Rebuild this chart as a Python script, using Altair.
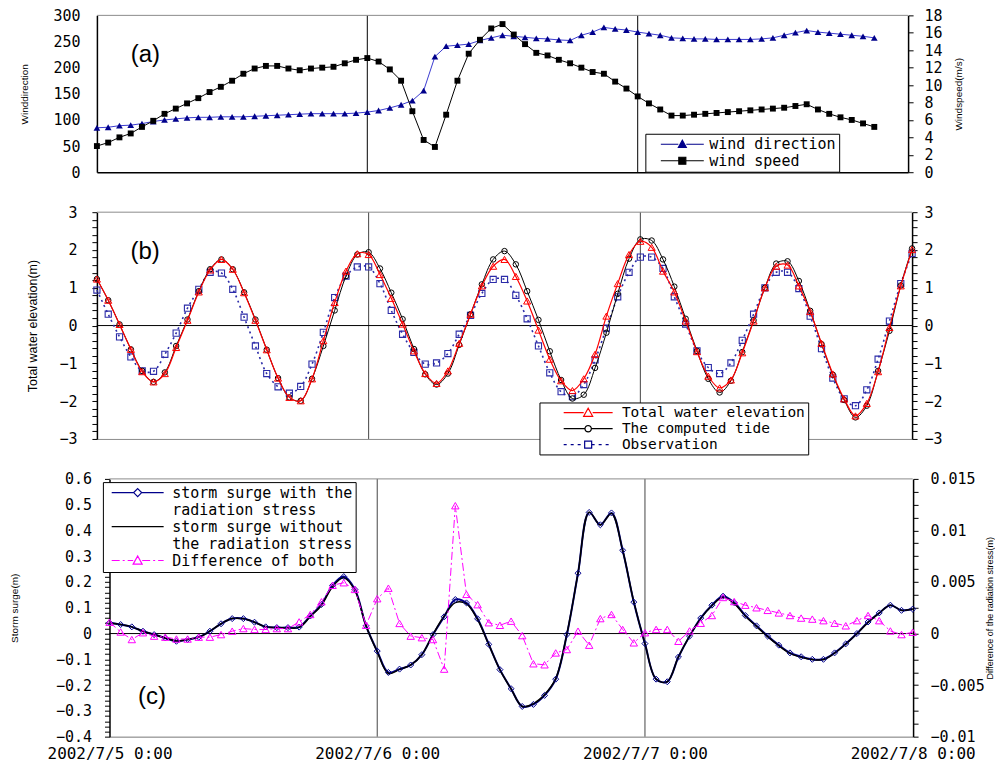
import math
import altair as alt
import pandas as pd

# ---------------- data ----------------
hours_a = list(range(70))
wind_direction = [85, 86, 89, 90, 93, 97, 100, 102, 104, 105,
                  105, 106, 106, 106, 107, 108, 109, 110, 111, 112,
                  112, 112, 112, 113, 115, 118, 123, 129, 137, 156,
                  221, 241, 243, 245, 252, 257, 262, 260, 258, 256,
                  255, 253, 252, 262, 268, 277, 274, 272, 268, 265,
                  262, 257, 256, 255, 255, 254, 254, 254, 254, 255,
                  257, 262, 267, 271, 268, 266, 264, 262, 260, 257]
wind_speed = [3.0, 3.4, 4.0, 4.45, 5.2, 5.9, 6.7, 7.3, 7.9, 8.5,
              9.2, 9.8, 10.5, 11.3, 11.9, 12.2, 12.2, 11.9, 11.7, 11.9,
              12.0, 12.1, 12.5, 12.9, 13.1, 12.7, 11.8, 10.5, 7.0, 3.7,
              2.9, 6.6, 10.5, 13.6, 15.2, 16.5, 17.0, 15.8, 14.7, 13.7,
              13.4, 12.9, 12.5, 12.0, 11.5, 11.3, 10.4, 9.6, 8.7, 7.9,
              7.2, 6.5, 6.5, 6.6, 6.7, 6.8, 6.9, 7.0, 7.1, 7.2,
              7.3, 7.4, 7.6, 7.8, 7.2, 6.7, 6.3, 6.0, 5.6, 5.2]

hours = list(range(73))
total_elev = [1.23, 0.67, 0.03, -0.63, -1.22, -1.49, -1.27, -0.58, 0.14, 0.89,
              1.47, 1.75, 1.49, 0.87, 0.14, -0.64, -1.39, -1.90, -1.99, -1.41,
              -0.40, 0.61, 1.44, 1.90, 1.88, 1.35, 0.72, 0.04, -0.67, -1.27,
              -1.53, -1.20, -0.47, 0.30, 1.05, 1.57, 1.75, 1.30, 0.65, -0.12,
              -0.89, -1.46, -1.72, -1.41, -0.76, 0.25, 1.11, 1.88, 2.23, 2.07,
              1.44, 0.89, 0.12, -0.69, -1.34, -1.65, -1.44, -0.72, 0.12, 1.00,
              1.57, 1.60, 1.05, 0.37, -0.47, -1.28, -1.94, -2.39, -2.06, -1.22,
              -0.05, 1.05, 2.01]
computed_tide = [1.23, 0.67, 0.03, -0.63, -1.20, -1.49, -1.24, -0.54, 0.16, 0.91,
                 1.49, 1.75, 1.49, 0.88, 0.16, -0.64, -1.39, -1.90, -1.99, -1.41,
                 -0.54, 0.40, 1.31, 1.88, 1.94, 1.51, 0.87, 0.17, -0.62, -1.29,
                 -1.56, -1.27, -0.51, 0.30, 1.09, 1.75, 1.97, 1.62, 0.91, 0.15,
                 -0.68, -1.44, -1.93, -1.83, -1.12, -0.19, 0.84, 1.77, 2.28, 2.25,
                 1.75, 1.03, 0.18, -0.67, -1.41, -1.77, -1.46, -0.70, 0.14, 1.00,
                 1.64, 1.70, 1.18, 0.39, -0.49, -1.30, -1.97, -2.43, -2.12, -1.20,
                 -0.14, 1.06, 2.04]
observation = [0.94, 0.30, -0.30, -0.83, -1.20, -1.21, -0.76, -0.20, 0.46, 0.96,
               1.41, 1.39, 0.96, 0.22, -0.54, -1.27, -1.62, -1.79, -1.61, -1.02,
               -0.18, 0.74, 1.31, 1.55, 1.55, 1.11, 0.40, -0.23, -0.71, -1.02,
               -0.99, -0.74, -0.23, 0.27, 0.85, 1.22, 1.22, 0.80, 0.18, -0.54,
               -1.25, -1.75, -1.88, -1.56, -0.91, -0.07, 0.76, 1.41, 1.81, 1.81,
               1.51, 0.76, 0.04, -0.67, -1.11, -1.27, -0.99, -0.39, 0.30, 1.00,
               1.41, 1.41, 0.98, 0.25, -0.61, -1.39, -1.94, -2.12, -1.70, -0.89,
               0.12, 1.11, 1.91]

surge_with = [0.042, 0.035, 0.026, 0.009, -0.004, -0.017, -0.030, -0.023, -0.014, 0.009,
              0.038, 0.058, 0.058, 0.044, 0.026, 0.023, 0.023, 0.025, 0.068, 0.113,
              0.187, 0.221, 0.171, 0.030, -0.068, -0.151, -0.138, -0.122, -0.082, -0.004,
              0.065, 0.132, 0.119, 0.057, -0.042, -0.140, -0.214, -0.283, -0.275, -0.240,
              -0.177, -0.004, 0.234, 0.470, 0.422, 0.468, 0.323, 0.122, -0.039, -0.177,
              -0.187, -0.091, -0.010, 0.060, 0.110, 0.145, 0.120, 0.070, 0.030, -0.010,
              -0.045, -0.075, -0.090, -0.100, -0.100, -0.075, -0.040, 0.000, 0.045, 0.080,
              0.110, 0.090, 0.095]
surge_without = [0.041, 0.035, 0.026, 0.009, -0.004, -0.017, -0.029, -0.023, -0.014, 0.009,
                 0.038, 0.058, 0.057, 0.044, 0.026, 0.023, 0.022, 0.024, 0.066, 0.110,
                 0.182, 0.216, 0.167, 0.029, -0.071, -0.155, -0.139, -0.122, -0.082, -0.003,
                 0.068, 0.120, 0.115, 0.054, -0.043, -0.141, -0.215, -0.283, -0.272, -0.237,
                 -0.175, -0.002, 0.234, 0.471, 0.421, 0.466, 0.323, 0.123, -0.039, -0.177,
                 -0.187, -0.090, -0.010, 0.059, 0.108, 0.141, 0.117, 0.067, 0.028, -0.012,
                 -0.047, -0.077, -0.092, -0.101, -0.101, -0.076, -0.041, -0.001, 0.043, 0.079,
                 0.110, 0.090, 0.095]
difference = [0.0011, 0.00015, -0.00058, 0.00008, -0.00025, -0.00035, -0.00053, -0.00053, -0.00035, -0.00035,
              -0.0001, 0.00023, 0.00048, 0.0004, 0.0004, 0.00048, 0.00048, 0.00113, 0.00185, 0.00308,
              0.00468, 0.00493, 0.00428, 0.0008, 0.00338, 0.0044, 0.00098, -0.00025, -0.0004, -0.00058,
              -0.00345, 0.0124, 0.0038, 0.0028, 0.00105, 0.0008, 0.0012, -0.0002, -0.00293, -0.00303,
              -0.00188, -0.00155, 0.00023, -0.00113, 0.00145, 0.00185, 0.0004, -0.0009, 0.00008, 0.0004,
              0.0004, -0.00075, 0.00025, 0.001, 0.00175, 0.0035, 0.0031, 0.00275, 0.0025, 0.00225,
              0.002, 0.00175, 0.0015, 0.0014, 0.00125, 0.001, 0.00075, 0.00125, 0.00175, 0.00125,
              0.00025, -0.0001, 0.00013]

day_lines = [24, 48]
x_label_hours = [0, 24, 48, 72]
x_labels = ["2002/7/5 0:00", "2002/7/6 0:00", "2002/7/7 0:00", "2002/7/8 0:00"]

legend_a = ["wind direction", "wind speed"]
legend_b = ["Total water elevation", "The computed tide", "Observation"]
legend_c = ["storm surge with the", "radiation stress", "storm surge without",
            "the radiation stress", "Difference of both"]

# ---------------- styling ----------------
FONT = "DejaVu Sans Mono"
TFONT = "Liberation Sans"
NAVY = "#00008b"
BLUE_LINE = "#3b3bd0"
RED = "#ff0000"
MAGENTA = "#ff00ff"
OBS = "#2b2ba8"
GRAY = "#8c8c8c"

W_A, W_B, W_C = 812, 816, 817
H_A, H_B, H_C = 157, 227, 258
C_RANGE = [12.6, 816.6]

df_a = pd.DataFrame({"h": hours_a, "dir": wind_direction, "speed": wind_speed})
df_b = pd.DataFrame({"h": hours, "tot": total_elev, "tide": computed_tide, "obs": observation})
df_c = pd.DataFrame({"h": hours, "sw": surge_with, "swo": surge_without, "diff": difference})
days = pd.DataFrame({"h": day_lines})
one = pd.DataFrame({"k": [0]})


def xscale(rng=None):
    if rng is None:
        return alt.Scale(domain=[0, 72], nice=False, zero=False)
    return alt.Scale(domain=[0, 72], range=rng, nice=False, zero=False)


def yscale(lo, hi):
    return alt.Scale(domain=[lo, hi], nice=False, zero=False)


def yaxis(orient, values, label_padding, tick_size=5, title=None, title_pad=0,
          title_size=10, label_expr=None, offset=None, ticks=True):
    kw = dict(orient=orient, values=values, labelFont=FONT, labelFontSize=15,
              labelColor="black", labelPadding=label_padding, labelOverlap=False,
              domainColor="black", domainWidth=1.5, tickColor="black",
              tickSize=tick_size if ticks else 0, ticks=ticks, grid=False)
    if label_expr:
        kw["labelExpr"] = label_expr
    if offset is not None:
        kw["offset"] = offset
    if title:
        kw.update(title=title, titleFont=TFONT, titleFontSize=title_size,
                  titleFontWeight="normal", titleColor="black", titleAngle=270,
                  titlePadding=title_pad,
                  titleBaseline="bottom" if orient == "left" else "top")
    else:
        kw["title"] = None
    return alt.Axis(**kw)


R = 5.0  # symbol half-size for symbolSize=100


def lpath(length, marker=None, m=4.0, dash=None):
    right = R
    left = right - length
    cx = (left + right) / 2.0
    segs = [(left, cx - m), (cx + m, right)] if marker else [(left, right)]
    parts = []
    for a, b in segs:
        if dash is None:
            parts.append((a, b))
        else:
            x = a
            i = 0
            while x < b - 0.01:
                on = dash[i % len(dash)]
                off = dash[(i + 1) % len(dash)]
                parts.append((x, min(x + on, b)))
                x = x + on + off
                i += 2

    def u(v):
        return f"{v / R:.3f}"

    s = "".join(f"M{u(a)},0L{u(b)},0" for a, b in parts)
    if marker == "triangle":
        s += f"M{u(cx - m)},{u(m * 0.8)}L{u(cx)},{u(-m)}L{u(cx + m)},{u(m * 0.8)}Z"
    elif marker == "square":
        s += f"M{u(cx - m)},{u(-m)}L{u(cx + m)},{u(-m)}L{u(cx + m)},{u(m)}L{u(cx - m)},{u(m)}Z"
    elif marker == "diamond":
        s += f"M{u(cx)},{u(-m)}L{u(cx + m)},0L{u(cx)},{u(m)}L{u(cx - m)},0Z"
    elif marker == "circle":
        pts = [(cx + m * math.cos(2 * math.pi * k / 16), m * math.sin(2 * math.pi * k / 16))
               for k in range(16)]
        s += "M" + "L".join(f"{u(px)},{u(py)}" for px, py in pts) + "Z"
    return s


def mk_legend(x, y, fs, rowpad, length, lead, gap, pad=4):
    sym_off = lead + length - 2 * R
    return alt.Legend(title=None, orient="none", legendX=x, legendY=y, labelFont=FONT,
                      labelFontSize=fs, labelColor="black", labelLimit=500,
                      symbolOffset=sym_off, labelOffset=gap,
                      symbolSize=100, symbolStrokeWidth=1.2, padding=pad, rowPadding=rowpad,
                      strokeColor="black", fillColor="white", zindex=1)


def legend_layer(field, names, paths, strokes, fills, legend):
    df = pd.DataFrame({field: names})
    return alt.Chart(df).transform_filter("false").mark_point(
        size=100, opacity=1, strokeWidth=1.2
    ).encode(
        shape=alt.Shape(f"{field}:N", scale=alt.Scale(domain=names, range=paths), legend=legend),
        fill=alt.Fill(f"{field}:N", scale=alt.Scale(domain=names, range=fills), legend=legend),
        stroke=alt.Stroke(f"{field}:N", scale=alt.Scale(domain=names, range=strokes), legend=legend),
    )


# x is shared inside a panel: only one layer sets the axis, the others leave it unset
def hline(yv, ysc, color, width=1.0, axis=None):
    return alt.Chart(one).mark_rule(color=color, strokeWidth=width).encode(
        x=alt.XDatum(0), x2=alt.X2Datum(72),
        y=alt.YDatum(yv, scale=ysc, axis=axis))


def panel_label(text, hx, yv, ysc):
    return alt.Chart(one).mark_text(text=text, font=TFONT, fontSize=24, align="center",
                                    baseline="middle", color="black").encode(
        x=alt.XDatum(hx), y=alt.YDatum(yv, axis=None, scale=ysc))


# ---------------- panel (a) ----------------
ax_xa = alt.Axis(orient="bottom", labels=False, ticks=False, domainColor="black",
                 domainWidth=1.5, title=None, grid=False)
panel_a = alt.layer(
    alt.Chart(days).mark_rule(color="black", strokeWidth=1).encode(
        x=alt.X("h:Q", scale=xscale(), axis=ax_xa)),
    hline(300, yscale(0, 300), GRAY),
    alt.Chart(df_a).mark_line(color=BLUE_LINE, strokeWidth=1).encode(
        x=alt.X("h:Q"),
        y=alt.Y("dir:Q", scale=yscale(0, 300),
                axis=yaxis("left", list(range(0, 301, 50)), 17, ticks=False,
                           title="Winddirection", title_pad=23, title_size=10))),
    alt.Chart(df_a).mark_point(shape="triangle-up", filled=True, color=NAVY, size=45, opacity=1).encode(
        x=alt.X("h:Q"), y=alt.Y("dir:Q", scale=yscale(0, 300), axis=None)),
    alt.Chart(df_a).mark_line(color="black", strokeWidth=1).encode(
        x=alt.X("h:Q"),
        y=alt.Y("speed:Q", scale=yscale(0, 18),
                axis=yaxis("right", list(range(0, 19, 2)), 11, title="Windspeed(m/s)",
                           title_pad=11, title_size=10))),
    alt.Chart(df_a).mark_point(shape="square", filled=True, color="black", size=35, opacity=1).encode(
        x=alt.X("h:Q"), y=alt.Y("speed:Q", scale=yscale(0, 18), axis=None)),
    panel_label("(a)", 4.3, 225, yscale(0, 300)),
    legend_layer("lg_a", legend_a,
                 [lpath(43, "triangle", 4.0), lpath(43, "square", 3.5)],
                 [NAVY, "black"], [NAVY, "black"],
                 mk_legend(549, 118.5, 15, 0.5, 43, 10, 3, pad=3)),
).resolve_scale(y="independent").properties(width=W_A, height=H_A)

# ---------------- panel (b) ----------------
b_ticks = [round(-3 + 0.2 * i, 1) for i in range(31)]
b_expr = "abs(datum.value - round(datum.value)) < 1e-6 ? format(datum.value, 'd') : ''"
ax_xb = alt.Axis(orient="bottom", labels=False, ticks=False, domainColor=GRAY,
                 domainWidth=1, title=None, grid=False)
panel_b = alt.layer(
    alt.Chart(days).mark_rule(color="#444444", strokeWidth=1).encode(
        x=alt.X("h:Q", scale=xscale(), axis=ax_xb)),
    hline(3, yscale(-3, 3), GRAY, axis=yaxis("right", b_ticks, 7, label_expr=b_expr)),
    hline(0, yscale(-3, 3), "black"),
    alt.Chart(df_b).mark_line(color=OBS, strokeWidth=1.6, strokeDash=[2, 3.5],
                              interpolate="catmull-rom").encode(
        x=alt.X("h:Q"),
        y=alt.Y("obs:Q", scale=yscale(-3, 3),
                axis=yaxis("left", b_ticks, 15, label_expr=b_expr,
                           title="Total water elevation(m)", title_pad=19.6,
                           title_size=12.5))),
    alt.Chart(df_b).mark_point(shape="square", color=OBS, size=38, opacity=1, strokeWidth=1.1).encode(
        x=alt.X("h:Q"), y=alt.Y("obs:Q", scale=yscale(-3, 3), axis=None)),
    alt.Chart(df_b).mark_line(color="black", strokeWidth=1, interpolate="catmull-rom").encode(
        x=alt.X("h:Q"), y=alt.Y("tide:Q", scale=yscale(-3, 3), axis=None)),
    alt.Chart(df_b).mark_point(shape="circle", color="black", size=30, opacity=1, strokeWidth=1).encode(
        x=alt.X("h:Q"), y=alt.Y("tide:Q", scale=yscale(-3, 3), axis=None)),
    alt.Chart(df_b).mark_line(color=RED, strokeWidth=1.2, interpolate="catmull-rom").encode(
        x=alt.X("h:Q"), y=alt.Y("tot:Q", scale=yscale(-3, 3), axis=None)),
    alt.Chart(df_b).mark_point(shape="triangle-up", color=RED, size=50, opacity=1, strokeWidth=1).encode(
        x=alt.X("h:Q"), y=alt.Y("tot:Q", scale=yscale(-3, 3), axis=None)),
    panel_label("(b)", 4.26, 1.94, yscale(-3, 3)),
    legend_layer("lg_b", legend_b,
                 [lpath(49, "triangle", 4.5), lpath(49, "circle", 3.2),
                  lpath(49, "square", 3.5, dash=[3, 4])],
                 [RED, "black", NAVY], ["white", "white", "white"],
                 mk_legend(443, 190.5, 14.5, 1, 49, 19, 7, pad=3)),
).resolve_scale(y="independent").properties(width=W_B, height=H_B)

# ---------------- panel (c) ----------------
c_ticks = [round(-0.4 + 0.02 * i, 2) for i in range(51)]
c_expr = "abs(datum.value*10 - round(datum.value*10)) < 1e-6 ? format(datum.value, '~g') : ''"
cr_ticks = [round(-0.01 + 0.00125 * i, 5) for i in range(21)]
cr_expr = "abs(datum.value*200 - round(datum.value*200)) < 1e-6 ? format(datum.value, '~g') : ''"
label_arr = "[" + ",".join(f"'{s}'" for s in x_labels) + "]"
ax_xc = alt.Axis(orient="bottom", values=x_label_hours,
                 labelExpr=f"{label_arr}[round(datum.value/24)]",
                 labelFont=FONT, labelFontSize=16, labelColor="black", labelPadding=9,
                 labelFlush=False, labelOverlap=False, ticks=False, domainColor="#777777",
                 domainWidth=1, title=None, grid=False)
ysc_c = yscale(-0.4, 0.6)
ysc_cr = yscale(-0.01, 0.015)
panel_c = alt.layer(
    alt.Chart(days).mark_rule(color="#444444", strokeWidth=1).encode(
        x=alt.X("h:Q", scale=xscale(C_RANGE), axis=ax_xc)),
    hline(0.6, ysc_c, GRAY),
    hline(0, ysc_c, "black"),
    alt.Chart(df_c).mark_line(color=NAVY, strokeWidth=2, interpolate="catmull-rom").encode(
        x=alt.X("h:Q"),
        y=alt.Y("sw:Q", scale=ysc_c,
                axis=yaxis("left", c_ticks, 13, label_expr=c_expr, offset=-12.6,
                           title="Storm surge(m)", title_pad=36, title_size=10))),
    alt.Chart(df_c).mark_line(color="black", strokeWidth=1.5, interpolate="catmull-rom").encode(
        x=alt.X("h:Q"), y=alt.Y("swo:Q", scale=ysc_c, axis=None)),
    alt.Chart(df_c).mark_point(shape="diamond", color=NAVY, size=36, opacity=1, strokeWidth=1).encode(
        x=alt.X("h:Q"), y=alt.Y("sw:Q", scale=ysc_c, axis=None)),
    alt.Chart(df_c).mark_line(color=MAGENTA, strokeWidth=1, strokeDash=[8, 3, 2, 3]).encode(
        x=alt.X("h:Q"),
        y=alt.Y("diff:Q", scale=ysc_cr,
                axis=yaxis("right", cr_ticks, 12, label_expr=cr_expr,
                           title="Difference of the radiation stress(m)", title_pad=1,
                           title_size=9))),
    alt.Chart(df_c).mark_point(shape="triangle-up", color=MAGENTA, size=55, opacity=1, strokeWidth=1).encode(
        x=alt.X("h:Q"), y=alt.Y("diff:Q", scale=ysc_cr, axis=None)),
    panel_label("(c)", 3.8, -0.245, ysc_c),
    legend_layer("lg_c", legend_c,
                 [lpath(52, "diamond", 4.0), "M0,0", lpath(52), "M0,0",
                  lpath(52, "triangle", 4.5, dash=[8, 3, 2, 3])],
                 [NAVY, "transparent", "black", "transparent", MAGENTA],
                 ["white", "transparent", "white", "transparent", "white"],
                 mk_legend(6, 3.2, 15, 1, 52, 3.3, 6, pad=3)),
).resolve_scale(y="independent").properties(width=W_C, height=H_C)

chart = alt.vconcat(panel_a, panel_b, panel_c, spacing=40, bounds="flush").resolve_scale(
    x="independent", y="independent", fill="independent", stroke="independent", shape="independent"
).resolve_legend(
    fill="independent", stroke="independent", shape="independent"
).properties(
    padding={"left": 1, "top": 0, "right": 0, "bottom": 0}
).configure_view(stroke=None)

chart.save("out.html", embed_options={"renderer": "svg", "actions": False})
